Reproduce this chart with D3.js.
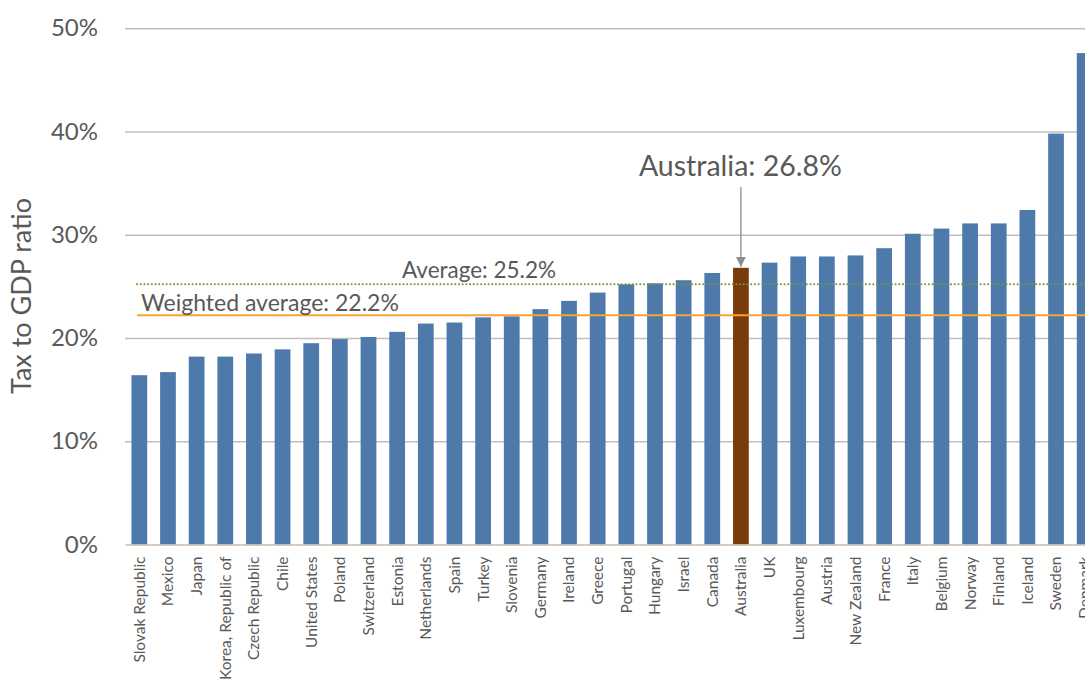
<!DOCTYPE html>
<html>
<head>
<meta charset="utf-8">
<script src="https://cdn.jsdelivr.net/npm/d3@7"></script>
<style>
  html, body { margin: 0; padding: 0; background: #fff; overflow: hidden; }
  svg { display: block; font-family: Lato, "Open Sans", sans-serif; }
</style>
</head>
<body>
<svg id="chart" width="1085" height="680"></svg>
<script>
const countries = ["Slovak Republic","Mexico","Japan","Korea, Republic of","Czech Republic","Chile","United States","Poland","Switzerland","Estonia","Netherlands","Spain","Turkey","Slovenia","Germany","Ireland","Greece","Portugal","Hungary","Israel","Canada","Australia","UK","Luxembourg","Austria","New Zealand","France","Italy","Belgium","Norway","Finland","Iceland","Sweden","Denmark"];
const taxRatio = [16.4,16.7,18.2,18.2,18.5,18.9,19.5,19.9,20.1,20.6,21.4,21.5,22.0,22.1,22.8,23.6,24.4,25.2,25.3,25.6,26.3,26.8,27.3,27.9,27.9,28.0,28.7,30.1,30.6,31.1,31.1,32.4,39.8,47.6];
const yTicks = [0,10,20,30,40,50];
const averages = [
  {label: "Average: 25.2%", value: 25.2},
  {label: "Weighted average: 22.2%", value: 22.2}
];
const highlight = {country: "Australia", label: "Australia: 26.8%"};

const svg = d3.select("#chart");
const plotLeft = 125, plotRight = 1099, plotTop = 28.3, plotBottom = 544.5;

const x = d3.scaleBand().domain(countries).range([plotLeft, plotRight])
  .paddingInner(0.45).paddingOuter(0.225);
const y = d3.scaleLinear().domain([0, 50]).range([plotBottom, plotTop]);

// gridlines + y tick labels
const yAxis = d3.axisLeft(y).tickValues(yTicks).tickFormat(d => d + "%")
  .tickSize(-(plotRight - plotLeft)).tickPadding(27);
const gy = svg.append("g").attr("transform", `translate(${plotLeft},0)`).call(yAxis);
gy.select(".domain").remove();
gy.selectAll(".tick line").attr("stroke", "#bfbfbf").attr("stroke-width", 1.5)
  .filter(d => d === 0).remove();
gy.selectAll(".tick text").attr("fill", "#595959").attr("font-size", 24)
  .attr("font-family", "Lato, sans-serif");

// bars
svg.append("g").selectAll("rect").data(countries).join("rect")
  .attr("x", d => x(d))
  .attr("width", x.bandwidth())
  .attr("y", (d, i) => y(taxRatio[i]))
  .attr("height", (d, i) => y(0) - y(taxRatio[i]))
  .attr("fill", d => d === highlight.country ? "#7a3b0b" : "#4e7aab");

// x axis baseline + labels
const xAxis = d3.axisBottom(x).tickSize(0).tickPadding(0);
const gx = svg.append("g").attr("transform", `translate(0,${plotBottom})`).call(xAxis);
gx.select(".domain").attr("stroke", "#c9b9a9").attr("stroke-width", 1.3);
gx.selectAll(".tick text")
  .attr("fill", "#595959").attr("font-size", 15.5).attr("font-family", "Lato, sans-serif")
  .attr("text-anchor", "end")
  .attr("transform", "rotate(-90)")
  .attr("x", -12).attr("y", 0).attr("dy", "0.35em");

// average lines
const lineX1 = 137, lineX2 = 1085;
svg.append("line")
  .attr("x1", lineX1).attr("x2", lineX2)
  .attr("y1", y(averages[0].value)).attr("y2", y(averages[0].value))
  .attr("stroke", "#77933c").attr("stroke-width", 2)
  .attr("stroke-dasharray", "0.1 3.6").attr("stroke-linecap", "round");
svg.append("line")
  .attr("x1", lineX1).attr("x2", lineX2)
  .attr("y1", y(averages[1].value)).attr("y2", y(averages[1].value))
  .attr("stroke", "#f6a331").attr("stroke-width", 2);

svg.append("text").attr("x", 402).attr("y", y(averages[0].value) - 6)
  .attr("fill", "#595959").attr("font-size", 22.5).text(averages[0].label);
svg.append("text").attr("x", 141).attr("y", y(averages[1].value) - 4)
  .attr("fill", "#595959").attr("font-size", 23).text(averages[1].label);

// Australia annotation
const ax = x(highlight.country) + x.bandwidth() / 2;
const ai = countries.indexOf(highlight.country);
svg.append("defs").append("marker").attr("id", "arr")
  .attr("viewBox", "0 0 10 10").attr("refX", 10).attr("refY", 5)
  .attr("markerWidth", 10).attr("markerHeight", 10).attr("markerUnits", "userSpaceOnUse")
  .attr("orient", "auto")
  .append("path").attr("d", "M0,0 L10,5 L0,10 z").attr("fill", "#8c8c8c");
svg.append("line").attr("x1", ax).attr("x2", ax).attr("y1", 187).attr("y2", y(taxRatio[ai]) - 1)
  .attr("stroke", "#8c8c8c").attr("stroke-width", 1.3).attr("marker-end", "url(#arr)");
svg.append("text").attr("x", ax - 0.5).attr("y", 176).attr("text-anchor", "middle")
  .attr("fill", "#595959").attr("font-size", 28.5).text(highlight.label);

// y title
svg.append("text").attr("transform", "translate(31,296) rotate(-90)")
  .attr("text-anchor", "middle").attr("fill", "#595959").attr("font-size", 27)
  .text("Tax to GDP ratio");
</script>
</body>
</html>
